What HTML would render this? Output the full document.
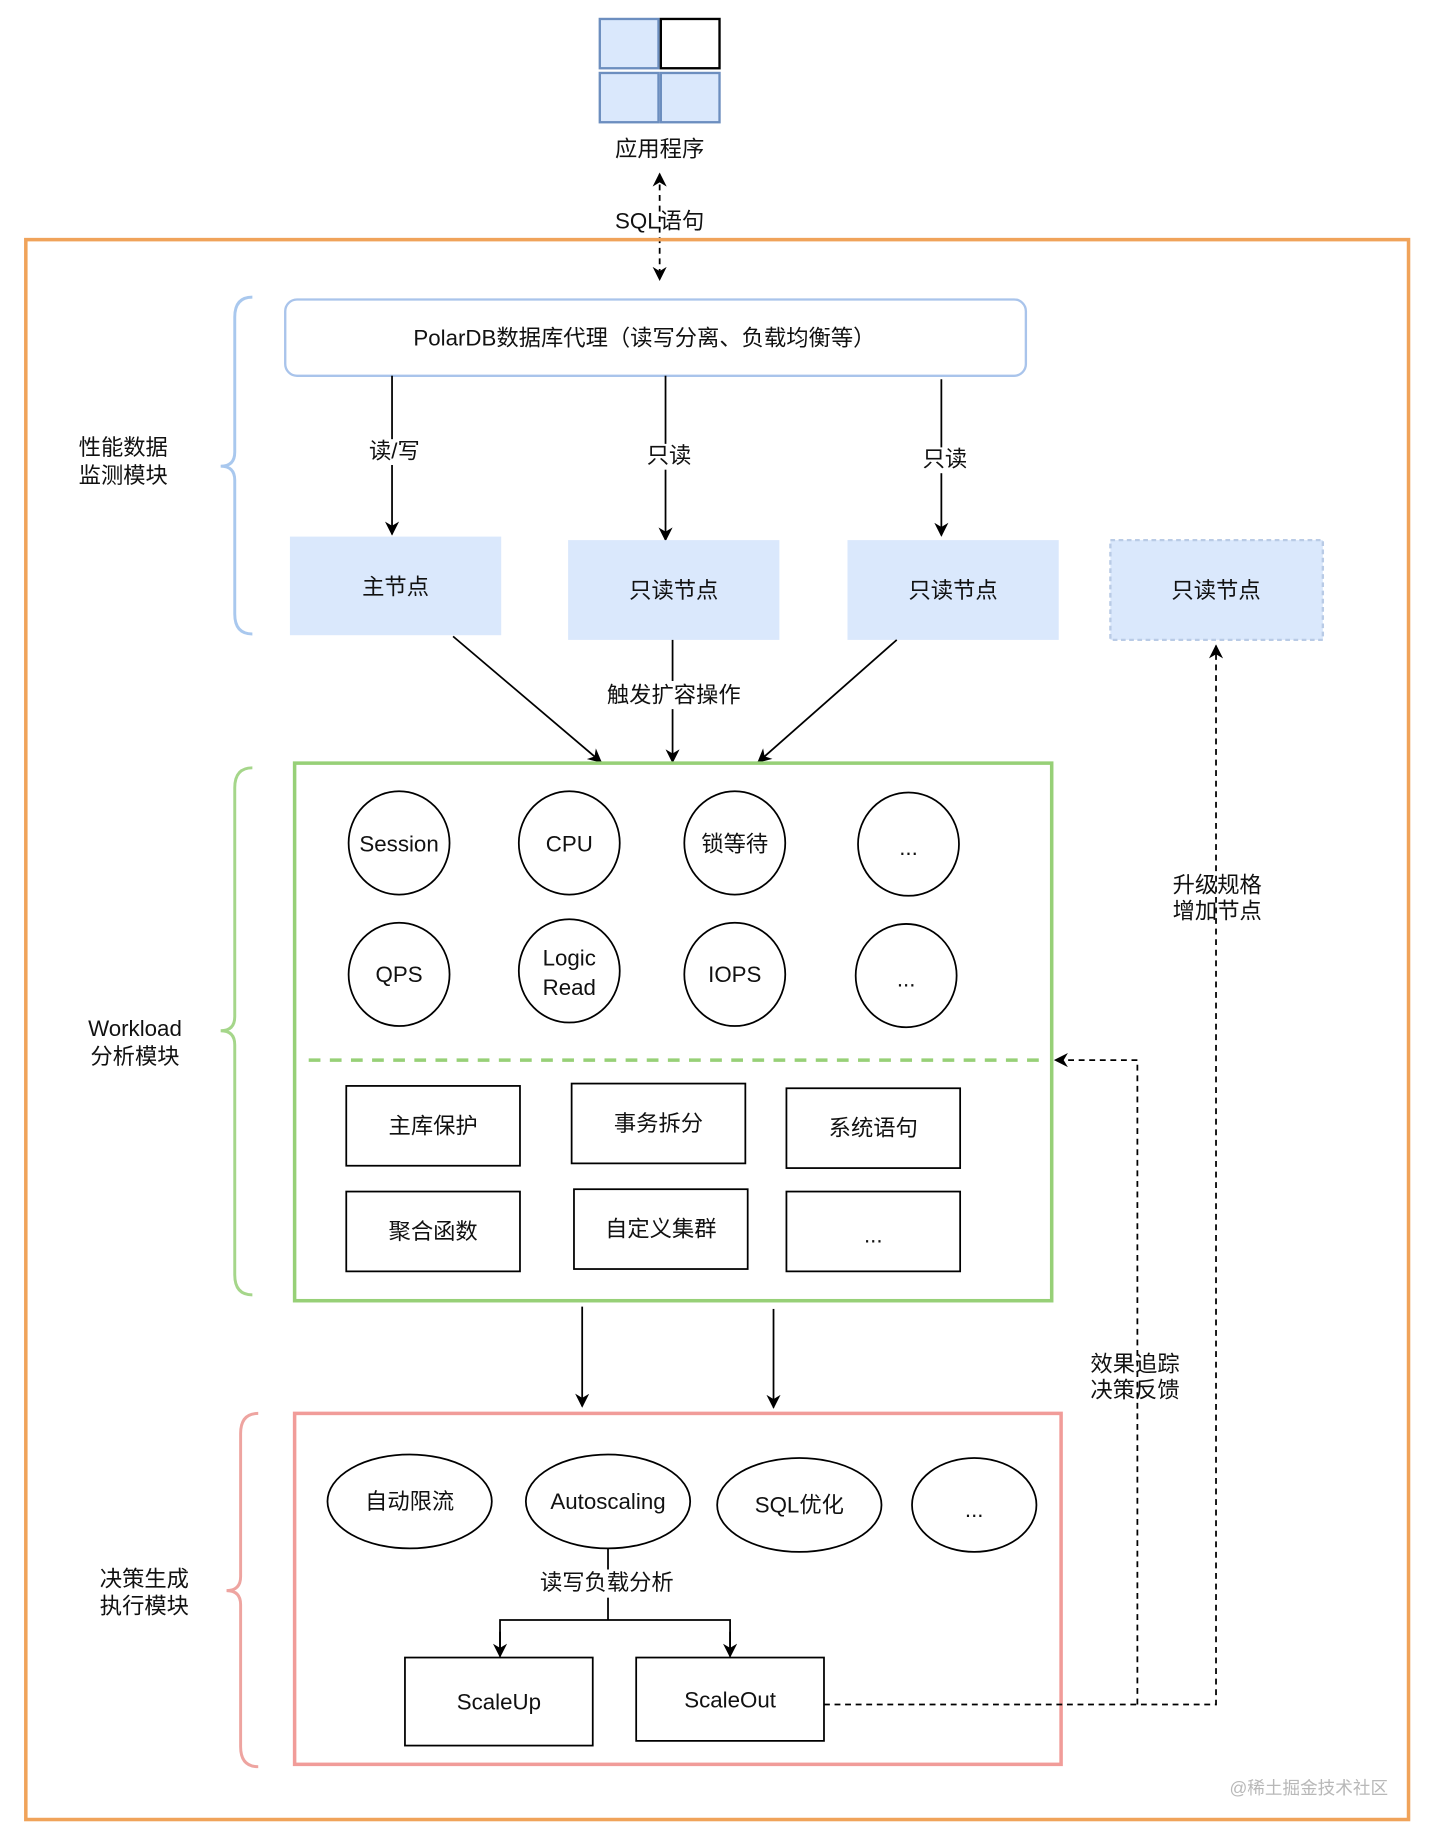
<!DOCTYPE html>
<html><head><meta charset="utf-8"><style>
html,body{margin:0;padding:0;background:#fff;}
svg{display:block;}
text{font-family:"Liberation Sans","Noto Sans CJK SC",sans-serif;font-size:19px;fill:#111;text-anchor:middle;dominant-baseline:central;}
</style></head><body>
<svg width="1432" height="1842" viewBox="0 0 1220 1569" xmlns="http://www.w3.org/2000/svg">
<defs>
<marker id="a" viewBox="0 0 10 10" refX="9" refY="5" markerWidth="9" markerHeight="9" orient="auto-start-reverse" markerUnits="userSpaceOnUse"><path d="M0,0 L10,5 L0,10 L3,5 z" fill="#000"/></marker>
<marker id="b" viewBox="0 0 10 10" refX="9" refY="5" markerWidth="12" markerHeight="12" orient="auto-start-reverse" markerUnits="userSpaceOnUse"><path d="M0,0 L10,5 L0,10 L3,5 z" fill="#000"/></marker>
</defs>
<!-- app icon -->
<rect x="511" y="16" width="50" height="42" fill="#dae8fc" stroke="#6c8ebf" stroke-width="2"/>
<rect x="563" y="16" width="50" height="42" fill="#fff" stroke="#000" stroke-width="2"/>
<rect x="511" y="62" width="50" height="42" fill="#dae8fc" stroke="#6c8ebf" stroke-width="2"/>
<rect x="563" y="62" width="50" height="42" fill="#dae8fc" stroke="#6c8ebf" stroke-width="2"/>
<text x="562" y="127">应用程序</text>
<line x1="562" y1="148" x2="562" y2="238" stroke="#000" stroke-width="1.5" stroke-dasharray="5,4" marker-start="url(#b)" marker-end="url(#b)"/>
<text x="562" y="188">SQL语句</text>
<!-- orange -->
<rect x="22" y="204" width="1178" height="1346" fill="none" stroke="#f0a35a" stroke-width="3"/>
<!-- braces -->
<path d="M215,253 Q200,253 200,270 L200,385 Q200,397 188,397 Q200,397 200,409 L200,523 Q200,540 215,540" fill="none" stroke="#a9c8ee" stroke-width="2.5"/>
<text x="105" y="381">性能数据</text><text x="105" y="405">监测模块</text>
<path d="M215,654 Q200,654 200,671 L200,866 Q200,878 188,878 Q200,878 200,890 L200,1086 Q200,1103 215,1103" fill="none" stroke="#a5d68a" stroke-width="2.5"/>
<text x="115" y="876">Workload</text><text x="115" y="900">分析模块</text>
<path d="M220,1204 Q205,1204 205,1221 L205,1343 Q205,1355 193,1355 Q205,1355 205,1367 L205,1488 Q205,1505 220,1505" fill="none" stroke="#eea4a0" stroke-width="2.5"/>
<text x="123" y="1345">决策生成</text><text x="123" y="1368">执行模块</text>
<!-- proxy -->
<rect x="243" y="255" width="631" height="65" rx="10" fill="#fff" stroke="#a9c4eb" stroke-width="2"/>
<text x="549" y="288">PolarDB数据库代理（读写分离、负载均衡等）</text>
<line x1="334" y1="320" x2="334" y2="455" stroke="#000" stroke-width="1.5" marker-end="url(#b)"/>
<rect x="314" y="374" width="42" height="22" fill="#fff"/><text x="336" y="384">读/写</text>
<line x1="567" y1="320" x2="567" y2="460" stroke="#000" stroke-width="1.5" marker-end="url(#b)"/>
<rect x="550" y="378" width="38" height="22" fill="#fff"/><text x="570" y="388">只读</text>
<line x1="802" y1="323" x2="802" y2="456" stroke="#000" stroke-width="1.5" marker-end="url(#b)"/>
<rect x="785" y="381" width="38" height="22" fill="#fff"/><text x="805" y="391">只读</text>
<!-- nodes -->
<rect x="247" y="457" width="180" height="84" fill="#dae8fc"/><text x="337" y="500">主节点</text>
<rect x="484" y="460" width="180" height="85" fill="#dae8fc"/><text x="574" y="503">只读节点</text>
<rect x="722" y="460" width="180" height="85" fill="#dae8fc"/><text x="812" y="503">只读节点</text>
<rect x="946" y="460" width="181" height="85" fill="#dae8fc" stroke="#b9cbe6" stroke-width="2" stroke-dasharray="4,3"/><text x="1036" y="503">只读节点</text>
<line x1="386" y1="542" x2="512" y2="649" stroke="#000" stroke-width="1.5" marker-end="url(#b)"/>
<line x1="573" y1="545" x2="573" y2="649" stroke="#000" stroke-width="1.5" marker-end="url(#b)"/>
<rect x="516" y="580" width="114" height="24" fill="#fff"/><text x="574" y="592">触发扩容操作</text>
<line x1="764" y1="545" x2="646" y2="649" stroke="#000" stroke-width="1.5" marker-end="url(#b)"/>
<!-- green box -->
<rect x="251" y="650" width="645" height="458" fill="none" stroke="#97d077" stroke-width="3"/>
<g fill="#fff" stroke="#000" stroke-width="1.5">
<ellipse cx="340" cy="718" rx="43" ry="44"/><ellipse cx="485" cy="718" rx="43" ry="44"/><ellipse cx="626" cy="718" rx="43" ry="44"/><ellipse cx="774" cy="719" rx="43" ry="44"/>
<ellipse cx="340" cy="830" rx="43" ry="44"/><ellipse cx="485" cy="827" rx="43" ry="44"/><ellipse cx="626" cy="830" rx="43" ry="44"/><ellipse cx="772" cy="831" rx="43" ry="44"/>
</g>
<text x="340" y="719">Session</text><text x="485" y="719">CPU</text><text x="626" y="719">锁等待</text><text x="774" y="722">...</text>
<text x="340" y="830">QPS</text><text x="485" y="816">Logic</text><text x="485" y="841">Read</text><text x="626" y="830">IOPS</text><text x="772" y="834">...</text>
<line x1="263" y1="903" x2="890" y2="903" stroke="#97d077" stroke-width="3" stroke-dasharray="10,8"/>
<g fill="#fff" stroke="#000" stroke-width="1.5">
<rect x="295" y="925" width="148" height="68"/><rect x="487" y="923" width="148" height="68"/><rect x="670" y="927" width="148" height="68"/>
<rect x="295" y="1015" width="148" height="68"/><rect x="489" y="1013" width="148" height="68"/><rect x="670" y="1015" width="148" height="68"/>
</g>
<text x="369" y="959">主库保护</text><text x="561" y="957">事务拆分</text><text x="744" y="961">系统语句</text>
<text x="369" y="1049">聚合函数</text><text x="563" y="1047">自定义集群</text><text x="744" y="1052">...</text>
<line x1="496" y1="1113" x2="496" y2="1198" stroke="#000" stroke-width="1.5" marker-end="url(#b)"/>
<line x1="659" y1="1115" x2="659" y2="1199" stroke="#000" stroke-width="1.5" marker-end="url(#b)"/>
<!-- red box -->
<rect x="251" y="1204" width="653" height="299" fill="none" stroke="#f19c99" stroke-width="3"/>
<g fill="#fff" stroke="#000" stroke-width="1.5">
<ellipse cx="349" cy="1279" rx="70" ry="40"/><ellipse cx="518" cy="1279" rx="70" ry="40"/><ellipse cx="681" cy="1282" rx="70" ry="40"/><ellipse cx="830" cy="1282" rx="53" ry="40"/>
</g>
<text x="349" y="1279">自动限流</text><text x="518" y="1279">Autoscaling</text><text x="681" y="1282">SQL优化</text><text x="830" y="1286">...</text>
<polyline points="518,1319 518,1380" fill="none" stroke="#000" stroke-width="1.5"/>
<rect x="458" y="1337" width="118" height="24" fill="#fff"/><text x="517" y="1348">读写负载分析</text>
<polyline points="426,1411 426,1380 622,1380 622,1411" fill="none" stroke="#000" stroke-width="1.5"/>
<line x1="426" y1="1390" x2="426" y2="1411" stroke="#000" stroke-width="1.5" marker-end="url(#b)"/>
<line x1="622" y1="1390" x2="622" y2="1411" stroke="#000" stroke-width="1.5" marker-end="url(#b)"/>
<rect x="345" y="1412" width="160" height="75" fill="#fff" stroke="#000" stroke-width="1.5"/><text x="425" y="1450">ScaleUp</text>
<rect x="542" y="1412" width="160" height="71" fill="#fff" stroke="#000" stroke-width="1.5"/><text x="622" y="1448">ScaleOut</text>
<!-- dashed feedback -->
<polyline points="702,1452 1036,1452 1036,550" fill="none" stroke="#000" stroke-width="1.5" stroke-dasharray="5,4" marker-end="url(#b)"/>
<polyline points="969,1452 969,903 899,903" fill="none" stroke="#000" stroke-width="1.5" stroke-dasharray="5,4" marker-end="url(#b)"/>
<text x="1037" y="754">升级规格</text><text x="1037" y="776">增加节点</text>
<text x="967" y="1162">效果追踪</text><text x="967" y="1184">决策反馈</text>
<text x="1115" y="1523" style="font-size:15px;fill:#b8b8b8">@稀土掘金技术社区</text>
</svg>
</body></html>
